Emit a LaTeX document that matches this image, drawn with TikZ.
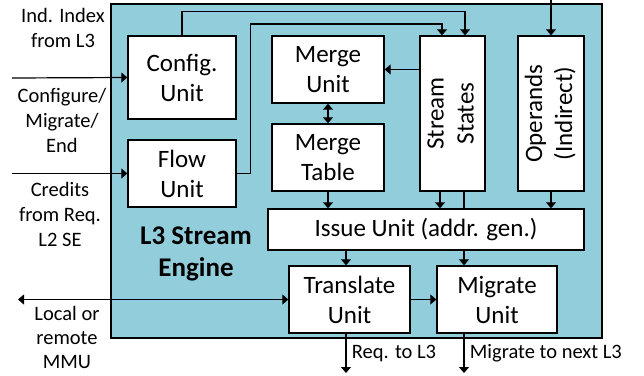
\documentclass[tikz,border=0pt]{standalone}
\usepackage{fontspec}
\setmainfont{Carlito}
\usetikzlibrary{arrows.meta,calc}

\definecolor{engblue}{HTML}{92CDDC}

\begin{document}
\begin{tikzpicture}[x=1pt, y=-1pt,
	unit/.style={draw, line width=1.4pt, fill=white, align=center, inner sep=0pt, font=\fontsize{25}{30}\selectfont},
	lbl/.style={align=center, font=\fontsize{20.5}{25}\selectfont},
	arr/.style={-{Triangle[length=6pt,width=10pt]}, line width=1.2pt},
	darr/.style={{Triangle[length=6pt,width=10pt]}-{Triangle[length=6pt,width=10pt]}, line width=1.2pt},
	wire/.style={line width=1.2pt}]
	\useasboundingbox (0,0) rectangle (644,375);

	% engine and its blocks
	\node[draw, line width=1.4pt, fill=engblue, minimum width=491pt, minimum height=334pt] (eng) at (356.5,171) {};
	\node[unit, minimum width=108pt, minimum height=83pt] (cfg) at (182,77.5) {Config.\\Unit};
	\node[unit, minimum width=108pt, minimum height=67pt] (flow) at (182,173.5) {Flow\\Unit};
	\node[unit, minimum width=112pt, minimum height=67pt] (mrgu) at (328,69.5) {Merge\\Unit};
	\node[unit, minimum width=112pt, minimum height=67pt] (mrgt) at (328,157.5) {Merge\\Table};
	\node[unit, minimum width=65pt, minimum height=155pt] (states) at (452.5,113.5) {\rotatebox{90}{\begin{tabular}{@{}c@{}}Stream\\States\end{tabular}}};
	\node[unit, minimum width=66pt, minimum height=155pt] (opnd) at (551,113.5) {\rotatebox{90}{\begin{tabular}{@{}c@{}}Operands\\(Indirect)\end{tabular}}};
	\node[unit, minimum width=316pt, minimum height=41pt] (issue) at (426,229.5) {Issue Unit (addr. gen.)};
	\node[unit, minimum width=121pt, minimum height=67pt] (trans) at (349.5,299.5) {Translate\\Unit};
	\node[unit, minimum width=120pt, minimum height=67pt] (migr) at (497,299.5) {Migrate\\Unit};
	\node[align=center, font=\fontsize{27}{32}\selectfont\bfseries] (title) at (196,254) {L3 Stream\\Engine};

	% outside labels
	\node[lbl] (idxlbl) at (63,27.5) {Ind. Index\\from L3};
	\node[lbl] (cfglbl) at (62,120) {Configure/\\Migrate/\\End};
	\node[lbl] (crdlbl) at (60,214) {Credits\\from Req.\\L2 SE};
	\node[lbl, font=\fontsize{20.5}{24}\selectfont] (mmulbl) at (67,337) {Local or\\remote\\MMU};

	\coordinate (cfgin) at (12,78);
	\coordinate (flowin) at (12,173.5);
	\coordinate (mmu) at (18,299.5);
	\coordinate (idxin) at (551,0);
	\coordinate (reqout) at (346,373);
	\coordinate (migout) at (464,373);

	% connections
	\draw[arr] (cfgin) -- (cfg.west);
	\draw[arr] (flowin) -- (flow.west);
	\draw[darr] (mmu) -- (trans.west);
	\draw[arr] (idxin) -- (opnd.north);
	\draw[arr] (cfg.north) -- ++(0,-24) -| ($(states.north)+(12.5,0)$);
	\draw[arr] (flow.east) -- ++(14,0) -- ++(0,-149.5) -| ($(states.north)+(-10.5,0)$);
	\draw[arr] (states.west |- mrgu) -- (mrgu.east);
	\draw[darr] (mrgu) -- (mrgt);
	\draw[arr] (mrgt.south) -- (mrgt.south |- issue.north);
	\draw[arr] ($(states.south)+(-12.5,0)$) -- ($(states.south |- issue.north)+(-12.5,0)$);
	\draw[wire] ($(states.south)+(11.5,0)$) -- ($(states.south |- issue.north)+(11.5,0)$);
	\draw[arr] (opnd.south) -- (opnd.south |- issue.north);
	\draw[arr] (issue.south -| reqout) -- (trans.north -| reqout);
	\draw[arr] (issue.south -| migout) -- (migr.north -| migout);
	\draw[arr] (trans) -- (migr);
	\draw[arr] (trans.south -| reqout) -- node[right, lbl, pos=0.5, xshift=2pt] {Req. to L3} (reqout);
	\draw[arr] (migr.south -| migout) -- node[right, lbl, pos=0.5, xshift=2pt] {Migrate to next L3} (migout);
\end{tikzpicture}
\end{document}
